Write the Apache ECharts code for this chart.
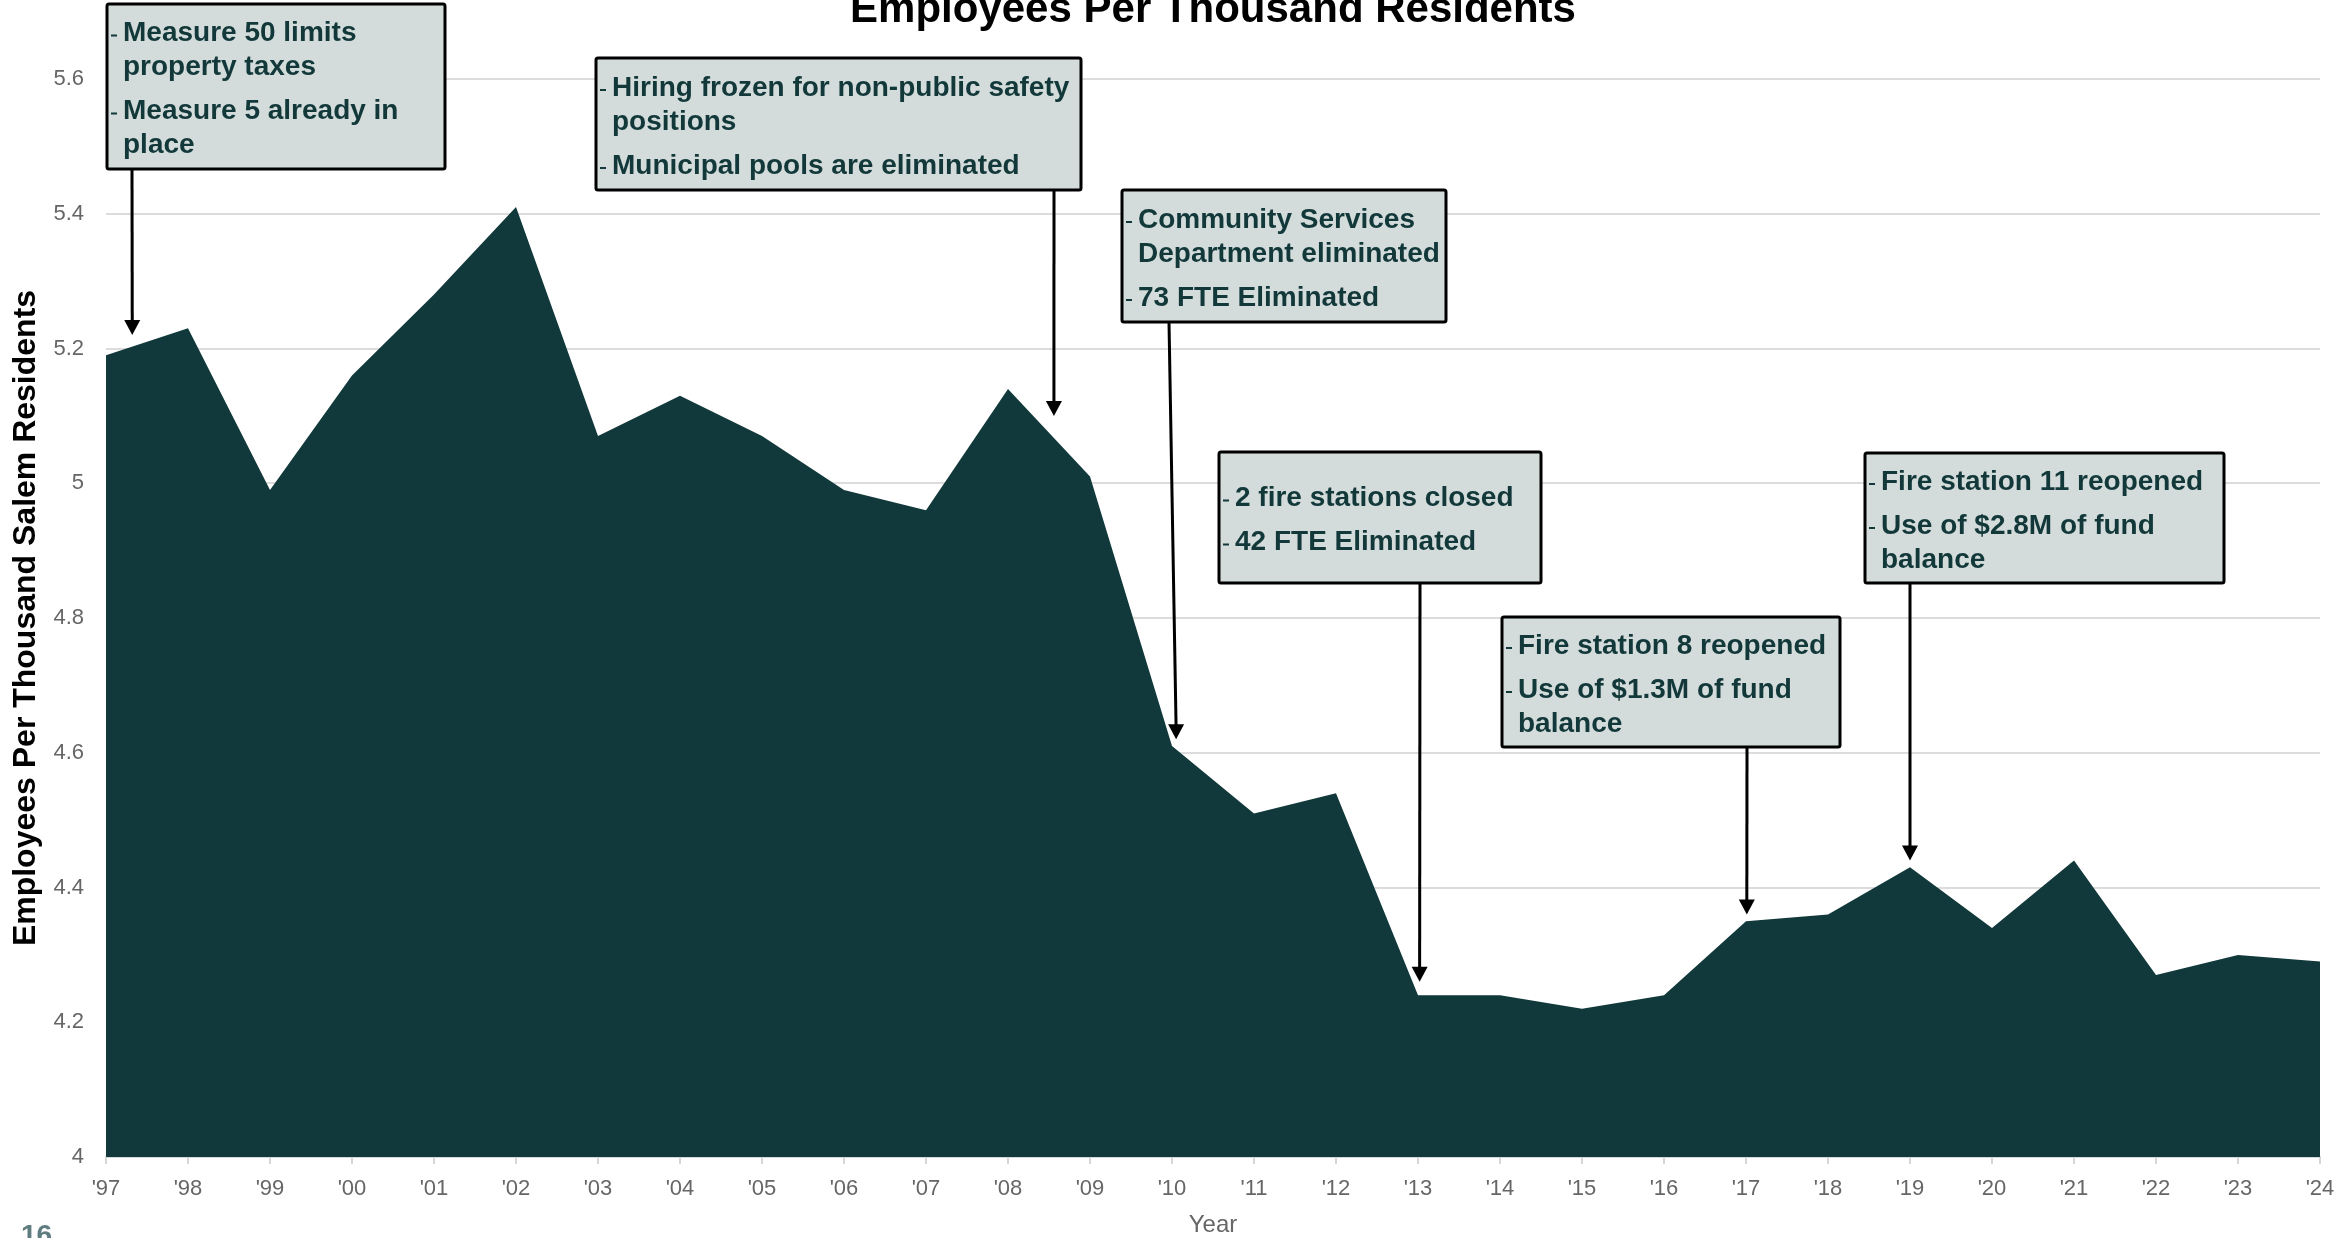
<!DOCTYPE html>
<html>
<head>
<meta charset="utf-8">
<script src="https://cdn.jsdelivr.net/npm/echarts@6/dist/echarts.min.js"></script>
<style>
html,body{margin:0;padding:0;background:#ffffff;}
#c{width:2340px;height:1238px;}
</style>
</head>
<body>
<div id="c"></div>
<script>
// ---------- DATA ----------
const years = ["'97","'98","'99","'00","'01","'02","'03","'04","'05","'06","'07","'08","'09","'10",
               "'11","'12","'13","'14","'15","'16","'17","'18","'19","'20","'21","'22","'23","'24"];
const employeesPerThousand = [5.19,5.23,4.99,5.16,5.28,5.41,5.07,5.13,5.07,4.99,4.96,5.14,5.01,4.61,
                              4.51,4.54,4.24,4.24,4.22,4.24,4.35,4.36,4.43,4.34,4.44,4.27,4.30,4.29];
const yMin = 4.0, yMax = 5.6, yStep = 0.2;

const chartTitle = 'Employees Per Thousand Residents';
const yAxisTitle = 'Employees Per Thousand Salem Residents';
const xAxisTitle = 'Year';
const pageNumber = '16';

// annotation notes: paragraphs (each a list of wrapped lines)
const noteMeasure50 = [['Measure 50 limits','property taxes'],['Measure 5 already in','place']];
const noteHiring = [['Hiring frozen for non-public safety','positions'],['Municipal pools are eliminated']];
const noteCommunity = [['Community Services','Department eliminated'],['73 FTE Eliminated']];
const noteFire2 = [['2 fire stations closed'],['42 FTE Eliminated']];
const noteFire8 = [['Fire station 8 reopened'],['Use of $1.3M of fund','balance']];
const noteFire11 = [['Fire station 11 reopened'],['Use of $2.8M of fund','balance']];
const annotationNotes = [noteMeasure50, noteHiring, noteCommunity, noteFire2, noteFire8, noteFire11];
// arrow targets in data space: [category position, value]
const annotationTargets = [[0.32,5.22],[11.56,5.10],[13.05,4.62],[16.02,4.26],[20.01,4.36],[22.0,4.44]];

// ---------- LAYOUT (pixels) ----------
const GRID = {left:106, right:20, top:79, bottom:81};
// box: [x, y, w, h, arrowStartX]
const boxLayout = [
  [107, 4, 338, 165, 132],
  [596, 58, 485, 132, 1054],
  [1122, 190, 324, 132, 1169],
  [1219, 452, 322, 131, 1420],
  [1502, 617, 338, 130, 1747],
  [1865, 453, 359, 130, 1910]
];
const FONT = "'Liberation Sans', Arial, Helvetica, sans-serif";
const AREA_COLOR = '#11383A';
const NOTE_FILL = '#D3DCDB';
const NOTE_TEXT = '#12383A';

const chart = echarts.init(document.getElementById('c'), null, {renderer:'canvas'});

const option = {
  animation: false,
  backgroundColor: '#ffffff',
  textStyle: {fontFamily: FONT},
  grid: {left: GRID.left, right: GRID.right, top: GRID.top, bottom: GRID.bottom,
         containLabel: false, outerBoundsMode: 'none'},
  xAxis: {
    type: 'category',
    data: years,
    boundaryGap: false,
    name: xAxisTitle,
    nameLocation: 'middle',
    nameGap: 56,
    nameTextStyle: {fontFamily: FONT, fontSize: 24, color: '#666666'},
    axisLine: {show: true, lineStyle: {color: '#D6D6D6', width: 2}},
    axisTick: {show: true, length: 7, lineStyle: {color: '#D6D6D6', width: 2}},
    axisLabel: {fontFamily: FONT, fontSize: 22, color: '#666666', margin: 21},
    splitLine: {show: false}
  },
  yAxis: {
    type: 'value',
    min: yMin, max: yMax, interval: yStep,
    name: yAxisTitle,
    nameLocation: 'middle',
    nameGap: 62,
    nameTextStyle: {fontFamily: FONT, fontSize: 32, fontWeight: 'bold', color: '#000000'},
    axisLine: {show: false},
    axisTick: {show: false},
    axisLabel: {fontFamily: FONT, fontSize: 22, color: '#666666', margin: 22,
      formatter: v => String(Math.round(v * 10) / 10)},
    splitLine: {show: true, lineStyle: {color: '#DCDCDC', width: 2}}
  },
  series: [{
    type: 'line',
    data: employeesPerThousand,
    symbol: 'none',
    lineStyle: {width: 0, color: AREA_COLOR},
    itemStyle: {color: AREA_COLOR},
    areaStyle: {color: AREA_COLOR, opacity: 1, origin: 'start'},
    z: 2
  }]
};
chart.setOption(option);

function pix(pos, val) {
  const i = Math.floor(pos), f = pos - i;
  const j = Math.min(i + 1, years.length - 1);
  const a = chart.convertToPixel({gridIndex: 0}, [i, val]);
  const b = chart.convertToPixel({gridIndex: 0}, [j, val]);
  return [a[0] + (b[0] - a[0]) * f, a[1]];
}

const graphics = [];
const left0 = chart.convertToPixel({gridIndex: 0}, [0, yMin])[0];
const right0 = chart.convertToPixel({gridIndex: 0}, [years.length - 1, yMin])[0];
graphics.push({
  type: 'text', z: 50, x: (left0 + right0) / 2, y: 10,
  style: {text: chartTitle, font: "bold 42px " + FONT, fill: '#000000', align: 'center', verticalAlign: 'middle'}
});
graphics.push({
  type: 'text', z: 50, x: 21, y: 1222,
  style: {text: pageNumber, font: "bold 28px " + FONT, fill: '#5F7D7E', align: 'left', verticalAlign: 'top'}
});

const LINE_GAP = 34, PARA_GAP = 44, TEXT_SHIFT = 3;
annotationNotes.forEach((note, k) => {
  const [bx, by, bw, bh, sx] = boxLayout[k];
  const tip = pix(annotationTargets[k][0], annotationTargets[k][1]);
  // arrow line
  graphics.push({
    type: 'line', z: 60,
    shape: {x1: sx, y1: by + bh, x2: tip[0], y2: tip[1] - 12},
    style: {stroke: '#000000', lineWidth: 3}
  });
  graphics.push({
    type: 'polygon', z: 61,
    shape: {points: [[tip[0] - 8, tip[1] - 15], [tip[0] + 8, tip[1] - 15], [tip[0], tip[1]]]},
    style: {fill: '#000000'}
  });
  // box
  graphics.push({
    type: 'rect', z: 70,
    shape: {x: bx, y: by, width: bw, height: bh, r: 2},
    style: {fill: NOTE_FILL, stroke: '#000000', lineWidth: 3}
  });
  // text lines
  let nLines = 0;
  note.forEach(p => nLines += p.length);
  const span = (nLines - note.length) * LINE_GAP + (note.length - 1) * PARA_GAP;
  let y = by + bh / 2 - span / 2 + TEXT_SHIFT;
  note.forEach((para, pi) => {
    if (pi > 0) y += PARA_GAP;
    graphics.push({
      type: 'rect', z: 71,
      shape: {x: bx + 4, y: y + 1, width: 6, height: 2},
      style: {fill: NOTE_TEXT}
    });
    para.forEach((line, li) => {
      if (li > 0) y += LINE_GAP;
      graphics.push({
        type: 'text', z: 72, x: bx + 16, y: y,
        style: {text: line, font: "bold 28px " + FONT, fill: NOTE_TEXT, align: 'left', verticalAlign: 'middle'}
      });
    });
  });
});

chart.setOption({graphic: graphics});
</script>
</body>
</html>
